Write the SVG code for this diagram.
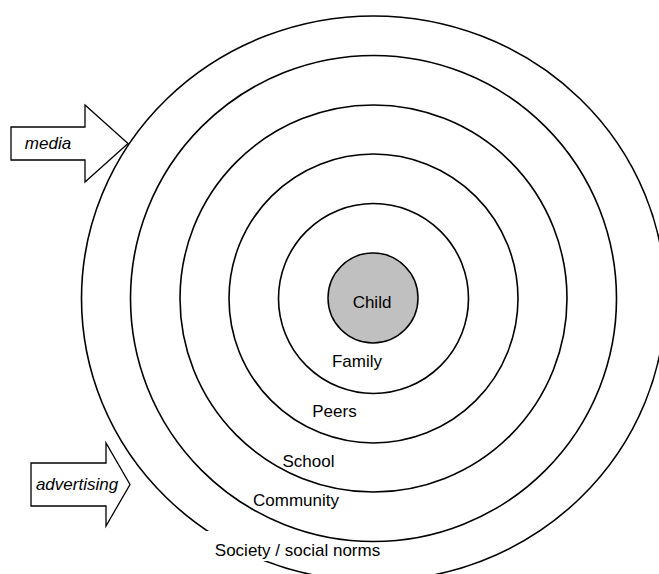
<svg xmlns="http://www.w3.org/2000/svg" width="659" height="574" viewBox="0 0 659 574">
<style>
.ring{fill:none;stroke:#000;stroke-width:1.6}
.lbl{font-family:"Liberation Sans",Arial,sans-serif;font-size:17px;fill:#000;text-anchor:middle}
.it{font-style:italic}
.arrow{fill:#fff;stroke:#000;stroke-width:1.3;stroke-linejoin:miter}
</style>
<rect width="659" height="574" fill="#fff"/>
<g id="society">
<ellipse class="ring" cx="373.5" cy="298.5" rx="292" ry="282.5"/>
<rect x="205" y="531" width="185" height="30" fill="#fff"/>
<text class="lbl" x="297.5" y="556">Society / social norms</text>
</g>
<g id="community">
<circle class="ring" cx="373.5" cy="298.5" r="243"/>
<text class="lbl" x="296" y="506">Community</text>
</g>
<g id="school">
<circle class="ring" cx="373.5" cy="298.5" r="193.5"/>
<text class="lbl" x="308.5" y="467">School</text>
</g>
<g id="peers">
<circle class="ring" cx="373.5" cy="298.5" r="144.5"/>
<text class="lbl" x="334.5" y="417">Peers</text>
</g>
<g id="family">
<circle class="ring" cx="373.5" cy="298.5" r="95"/>
<text class="lbl" x="357" y="367">Family</text>
</g>
<g id="child">
<circle cx="373" cy="298" r="45" fill="#c0c0c0" stroke="#000" stroke-width="1.5"/>
<text class="lbl" x="372" y="308">Child</text>
</g>
<g id="media">
<polygon class="arrow" points="11,127 85,127 85,105 128,143.5 85,182 85,160 11,160"/>
<text class="lbl it" x="48" y="149">media</text>
</g>
<g id="advertising">
<polygon class="arrow" points="31,463 106,463 106,443 130,484.5 106,526 106,506 31,506"/>
<text class="lbl it" x="77" y="490">advertising</text>
</g>
<g id="connectors"/>
</svg>
